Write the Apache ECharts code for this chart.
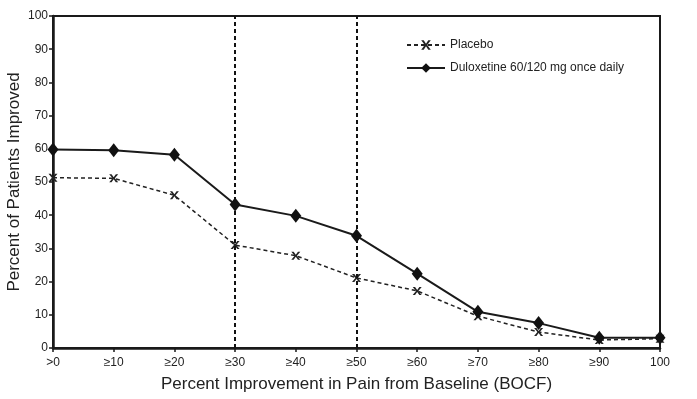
<!DOCTYPE html>
<html><head><meta charset="utf-8">
<script src="https://cdn.jsdelivr.net/npm/echarts@6/dist/echarts.min.js"></script>
<style>html,body{margin:0;padding:0;background:#fff}#c{width:697px;height:399px}</style>
</head><body><div id="c"></div>
<script>
const categories = ['>0','≥10','≥20','≥30','≥40','≥50','≥60','≥70','≥80','≥90','100'];
const placebo = [51.3, 51.1, 46.0, 31.0, 27.8, 21.1, 17.2, 9.6, 4.8, 2.4, 2.8];
const duloxetine = [59.8, 59.6, 58.2, 43.2, 39.8, 33.8, 22.4, 10.9, 7.5, 3.1, 3.1];
const yTicks = [0,10,20,30,40,50,60,70,80,90,100];
const refLines = ['≥30','≥50'];

const crossPath = 'path://M0,0 L2.6,0 L5,3 L7.4,0 L10,0 L6.3,4 L10,8 L7.4,8 L5,5 L2.6,8 L0,8 L3.7,4 Z';
const chart = echarts.init(document.getElementById('c'));
chart.setOption({
  animation:false,
  textStyle:{fontFamily:'Liberation Sans, Arial, sans-serif'},
  grid:{left:53,right:37,top:16,bottom:51,show:true,borderColor:'#1a1a1a',borderWidth:2,
        containLabel:false, outerBoundsMode:'none'},
  legend:{
    orient:'vertical', left:401, top:34, itemGap:11, itemWidth:38, itemHeight:12,
    textStyle:{fontSize:12,color:'#222',fontFamily:'Liberation Sans, Arial, sans-serif'},
    data:['Placebo','Duloxetine 60/120 mg once daily']
  },
  xAxis:{
    type:'category', data:categories, boundaryGap:false,
    axisLine:{lineStyle:{color:'#1a1a1a',width:2.5}},
    axisTick:{show:true,length:4,lineStyle:{color:'#1a1a1a',width:1.5}},
    axisLabel:{fontSize:12,color:'#222',margin:9},
    name:'Percent Improvement in Pain from Baseline (BOCF)',
    nameLocation:'middle', nameGap:28,
    nameTextStyle:{fontSize:17,color:'#222'}
  },
  yAxis:{
    type:'value', min:yTicks[0], max:yTicks[yTicks.length-1], interval:10,
    splitLine:{show:false},
    axisLine:{show:true,lineStyle:{color:'#1a1a1a',width:2.5}},
    axisTick:{show:true,length:4,lineStyle:{color:'#1a1a1a',width:1.5}},
    axisLabel:{fontSize:12,color:'#222',margin:5},
    name:'Percent of Patients Improved', nameLocation:'middle', nameGap:30,
    nameMoveOverlap:false,
    nameTextStyle:{fontSize:17,color:'#222'}
  },
  series:[
    {
      name:'Placebo', type:'line', data:placebo,
      symbol:crossPath, symbolSize:[9,8],
      itemStyle:{color:'#222'},
      lineStyle:{color:'#222',width:1.5,type:[4,3]},
      markLine:{
        silent:true, symbol:'none', label:{show:false},
        lineStyle:{color:'#111',width:2,type:[4,3]},
        data:refLines.map(v=>({xAxis:v}))
      }
    },
    {
      name:'Duloxetine 60/120 mg once daily', type:'line', data:duloxetine,
      symbol:'diamond', symbolSize:[11,14],
      itemStyle:{color:'#111'},
      lineStyle:{color:'#1a1a1a',width:2}
    }
  ]
});
</script></body></html>
